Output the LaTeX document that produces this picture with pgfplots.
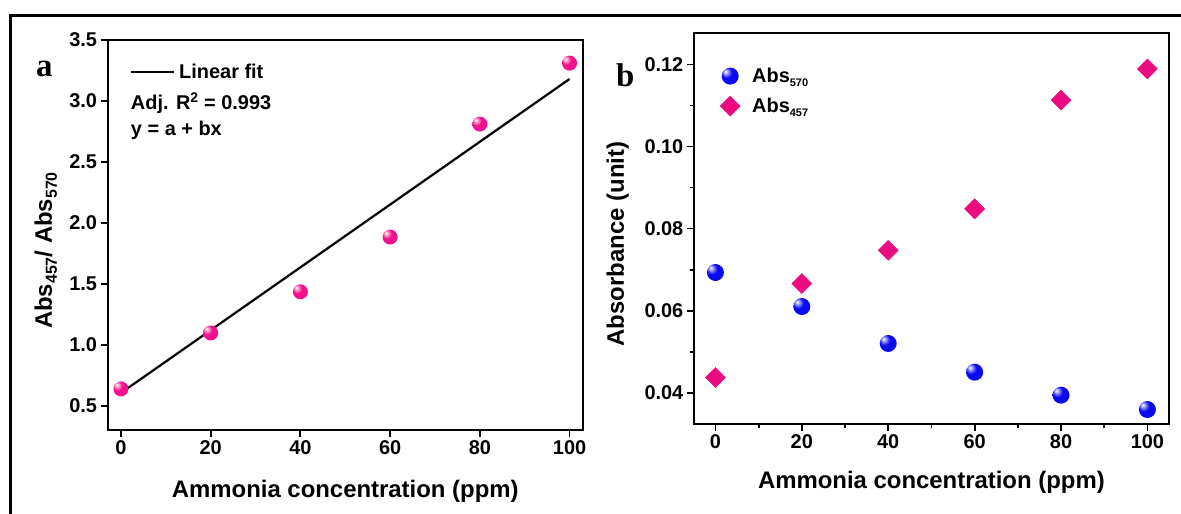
\documentclass[border=0pt]{standalone}
\usepackage{fontspec}
\setmainfont{Liberation Sans}
\newfontfamily\serifb{Liberation Serif}
\usepackage{pgfplots}
\pgfplotsset{compat=1.18}
\definecolor{pinkc}{HTML}{EC0A80}
\definecolor{pinkb}{HTML}{F2108C}
\definecolor{bluec}{HTML}{0A0AF0}

% glossy balls: highlight up left, darker rim
\pgfdeclareradialshading{pinkshade}{\pgfpoint{-14bp}{14bp}}{%
  color(0bp)=(white); color(7bp)=(pinkb!45!white); color(16bp)=(pinkb);
  color(52bp)=(pinkb); color(70bp)=(pinkb!75!black)}
\pgfdeclareradialshading{blueshade}{\pgfpoint{-14bp}{14bp}}{%
  color(0bp)=(white); color(7bp)=(bluec!45!white); color(16bp)=(bluec);
  color(52bp)=(bluec); color(70bp)=(bluec!70!black)}
\pgfdeclareplotmark{pinkball}{%
  \pgfpathcircle{\pgfpointorigin}{\pgfplotmarksize}%
  \pgfshadepath{pinkshade}{0}\pgfusepath{}}
\pgfdeclareplotmark{blueball}{%
  \pgfpathcircle{\pgfpointorigin}{\pgfplotmarksize}%
  \pgfshadepath{blueshade}{0}\pgfusepath{}}

\newcommand{\tickf}{\fontsize{20}{20}\selectfont\bfseries}
\newcommand{\labf}{\fontsize{24}{24}\selectfont\bfseries}

\pgfplotsset{
  panel/.style={
    scale only axis,
    axis line style={line width=2bp},
    every tick/.style={black, line width=1.8bp},
    tick align=outside, tick pos=left,
    major tick length=7bp, minor tick length=4bp,
    ticklabel style={font=\tickf},
    /pgf/number format/assume math mode=true,
    label style={font=\labf},
    clip=false,
  }
}

\begin{document}
\begin{tikzpicture}[x=1bp,y=1bp]
\useasboundingbox (0,0) rectangle (1181,514);
\fill[white] (0,0) rectangle (1181,514);
\draw[line width=3bp] (10,-5) -- (10,498) -- (1190,498);

% panel a
\begin{axis}[panel, at={(107.5bp,84bp)}, anchor=south west,
  width=475.5bp, height=390bp,
  xmin=-3, xmax=103, ymin=0.3, ymax=3.5,
  xtick={0,20,40,60,80,100}, ytick={0.5,1.0,1.5,2.0,2.5,3.0,3.5},
  yticklabel style={/pgf/number format/.cd, fixed, fixed zerofill, precision=1},
  xlabel={Ammonia concentration (ppm)},
  ylabel={Abs\raisebox{-5bp}{\fontsize{16}{16}\selectfont 457}/ Abs\raisebox{-5bp}{\fontsize{16}{16}\selectfont 570}},
  xlabel style={at={(axis description cs:0.5,-0.172)}, anchor=base},
  ylabel style={at={(axis description cs:-0.13,0.46)}, anchor=center},
  legend style={draw=none, fill=none, at={(axis description cs:0.047,0.918)},
    anchor=west, inner sep=0pt, font=\tickf, column sep=2bp},
  legend cell align=left,
  legend image code/.code={\draw[#1] (0bp,0bp) -- (43bp,0bp);},
]
\addplot[only marks, mark=pinkball, mark size=7.5bp, forget plot]
  coordinates {(0,0.637) (20,1.096) (40,1.434) (60,1.883) (80,2.81) (100,3.31)};
\addplot[black, line width=2.2bp]
  coordinates {(0,0.604) (100,3.18)};
\addlegendentry{Linear fit}
\node[anchor=base west, font=\tickf, inner sep=0pt] at (axis description cs:0.049,0.8205) {Adj. R\textsuperscript{2} = 0.993};
\node[anchor=base west, font=\tickf, inner sep=0pt] at (axis description cs:0.049,0.754) {y = a + bx};
\end{axis}

% panel b
\begin{axis}[panel, at={(693.8bp,89.7bp)}, anchor=south west,
  width=475.2bp, height=391bp,
  xmin=-5, xmax=105, ymin=0.0323, ymax=0.1276,
  xtick={0,20,40,60,80,100}, minor x tick num=1,
  ytick={0.04,0.06,0.08,0.10,0.12}, minor y tick num=1,
  yticklabel style={/pgf/number format/.cd, fixed, fixed zerofill, precision=2},
  xlabel={Ammonia concentration (ppm)},
  ylabel={Absorbance (unit)},
  xlabel style={at={(axis description cs:0.5,-0.163)}, anchor=base},
  ylabel style={at={(axis description cs:-0.16,0.461)}, anchor=center},
  legend style={draw=none, fill=none, at={(axis description cs:0.055,0.852)},
    anchor=west, inner sep=0pt, font=\tickf, row sep=10bp, column sep=10bp},
  legend cell align=left,
]
\addplot[only marks, mark=blueball, mark size=8.5bp]
  coordinates {(0,0.0693) (20,0.0610) (40,0.0520) (60,0.0450) (80,0.0394) (100,0.0359)};
\addlegendentry{Abs\raisebox{-4bp}{\fontsize{11}{11}\selectfont 570}}
\addplot[only marks, mark=square*, mark size=7.1bp, mark options={rotate=45, fill=pinkc, draw=pinkc}]
  coordinates {(0,0.0437) (20,0.0666) (40,0.0747) (60,0.0848) (80,0.1113) (100,0.1189)};
\addlegendentry{Abs\raisebox{-4bp}{\fontsize{11}{11}\selectfont 457}}
\end{axis}

\node[anchor=base west, inner sep=0pt, font=\serifb\fontsize{33}{33}\selectfont\bfseries] at (36,437) {a};
\node[anchor=base west, inner sep=0pt, font=\serifb\fontsize{33}{33}\selectfont\bfseries] at (616,427) {b};
\end{tikzpicture}
\end{document}
